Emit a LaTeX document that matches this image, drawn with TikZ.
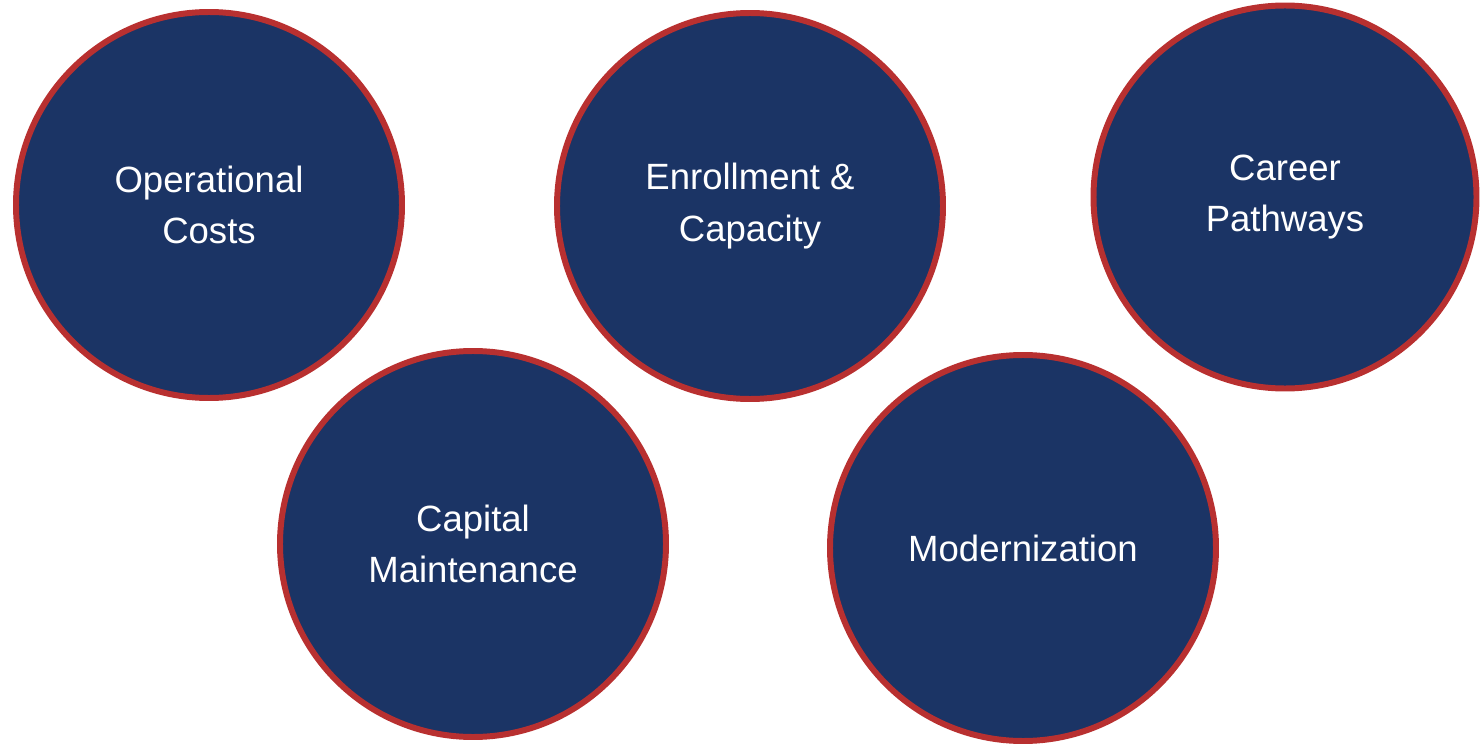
\documentclass[tikz,border=0pt]{standalone}
\usepackage{fontspec}
\setmainfont{Liberation Sans}
\usepackage{tikz}
\usetikzlibrary{%
  positioning
 ,shapes
}
\definecolor{navy}{HTML}{1B3465}
\definecolor{rim}{HTML}{B83030}
\tikzstyle{topic}=[circle,draw=rim,fill=navy,line width=1.7pt,minimum size=3.86cm,inner sep=0pt,text=white,align=center,font=\fontsize{10.4}{14.7}\selectfont]

\begin{document}
\begin{tikzpicture}
      \useasboundingbox (0,0) rectangle (14.8,7.44);
      \node[topic] (opcost) at (2.09,5.39) {Operational\\Costs};
      \node[topic] (enroll) at (7.50,5.38) {Enrollment \&\\Capacity};
      \node[topic,minimum size=3.83cm] (career) at (12.85,5.47) {Career\\Pathways};
      \node[topic] (capmaint) at (4.73,2.00) {Capital\\Maintenance};
      \node[topic] (modern) at (10.23,1.96) {Modernization};
    \end{tikzpicture}
\end{document}
